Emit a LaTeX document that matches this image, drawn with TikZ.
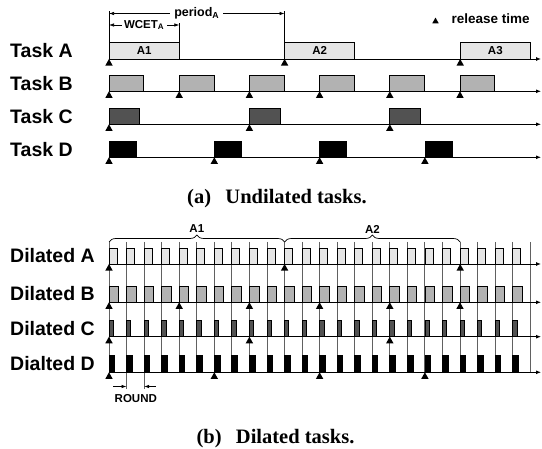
\documentclass[tikz,border=0pt]{standalone}
\usepackage{fontspec}
\setmainfont{Liberation Sans}
\newfontfamily\capfont{Liberation Serif}
\usetikzlibrary{arrows.meta,decorations.pathreplacing}
\tikzset{
  rowlab/.style={font=\bfseries\fontsize{19.5}{19.5}\selectfont, anchor=base west, inner sep=0pt},
  small/.style={font=\bfseries\fontsize{11.5}{12}\selectfont, inner sep=0pt},
  caption/.style={font=\capfont\bfseries\fontsize{20.5}{20.5}\selectfont, anchor=base, inner sep=0pt},
  axis/.style={line width=0.9pt, -{Latex[length=5pt,width=4pt]}},
  dim/.style={line width=0.7pt, {Latex[length=5pt,width=3.5pt]}-{Latex[length=5pt,width=3.5pt]}},
  tick/.style={line width=0.7pt},
  vline/.style={line width=0.85pt, draw=black!62},
  boxA/.style={draw=black, line width=0.8pt, fill=black!10},
  boxB/.style={draw=black, line width=0.8pt, fill=black!30},
  boxC/.style={draw=black, line width=0.8pt, fill=black!68},
  boxD/.style={draw=black, line width=0.8pt, fill=black},
  relmark/.style={fill=black},
}
\newcommand\relat[2]{\fill[relmark] (#1,#2) -- ++(-3.7,6.6) -- ++(7.4,0) -- cycle;}
\begin{document}
\begin{tikzpicture}[x=1pt,y=-1pt]
\useasboundingbox (0,0) rectangle (542,449);

% ---------------- (a) undilated ----------------
\node[rowlab] (tA) at (10,57.5) {Task A};
\node[rowlab] (tB) at (10,90.3) {Task B};
\node[rowlab] (tC) at (10,123.2) {Task C};
\node[rowlab] (tD) at (10,156.2) {Task D};

% boxes
\foreach \s/\t in {109/A1,284.6/A2,460.2/A3}{
  \draw[boxA] (\s,59) rectangle ++(70.2,-16.5);
  \node[small] (j\t) at ({\s+35.1},50.75) {\t};
}
\foreach \k in {0,...,5}{\draw[boxB] ({109+\k*70.2},91.3) rectangle ++(34.8,-15.8);}
\foreach \k in {0,...,2}{\draw[boxC] ({109+\k*140.4},124.3) rectangle ++(30.5,-16);}
\foreach \k in {0,...,3}{\draw[boxD] ({109+\k*105.3},157.3) rectangle ++(27,-16.3);}

% axes
\foreach \y/\n in {59/a,91.3/b,124.3/c,157.3/d}{
  \coordinate (s\n) at (109,\y); \coordinate (e\n) at (541,\y);
  \draw[axis] (s\n) -- (e\n);
}
% releases
\foreach \s in {109,284.6,460.2}{\relat{\s}{59}}
\foreach \k in {0,...,5}{\relat{109+\k*70.2}{91.3}}
\foreach \k in {0,...,2}{\relat{109+\k*140.4}{124.3}}
\foreach \k in {0,...,3}{\relat{109+\k*105.3}{157.3}}

% period / WCET annotations
\coordinate (p0) at (109,13.5); \coordinate (p1) at (284.6,13.5);
\coordinate (w0) at (109,25); \coordinate (w1) at (179.3,25);
\draw[tick] (109,11.5) -- (109,42.5);
\draw[tick] (284.6,11.5) -- (284.6,42.5);
\draw[tick] (179.3,22.5) -- (179.3,42.5);
\draw[dim] (p0) -- (p1) node[midway, fill=white, inner sep=4pt, font=\bfseries\fontsize{12.5}{13}\selectfont] (per) {period\textsubscript{A}};
\draw[dim] (w0) -- (w1) node[midway, fill=white, inner sep=2.5pt, font=\bfseries\fontsize{11.5}{12}\selectfont] (wcet) {WCET\textsubscript{A}};

% legend
\fill[relmark] (432.3,23.3) -- (438.7,23.3) -- (435.5,17.6) -- cycle;
\node[font=\bfseries\fontsize{13.5}{14}\selectfont, anchor=base west, inner sep=0pt] (leg) at (451.5,23.3) {release time};

\node[caption] (capa) at (277,203.3) {(a)\hspace{0.7em}Undilated tasks.};

% ---------------- (b) dilated ----------------
\node[rowlab] (dA) at (10,262.8) {Dilated A};
\node[rowlab] (dB) at (10,300.8) {Dilated B};
\node[rowlab] (dC) at (10,335.3) {Dilated C};
\node[rowlab] (dD) at (10,370.8) {Dialted D};

% round boundaries
\foreach \k in {0,...,24}{\draw[vline] ({109+\k*17.55},242) -- ({109+\k*17.55},372.3);}
\draw[vline] (126.55,372.3) -- (126.55,389);
\draw[vline] (144.1,372.3) -- (144.1,389);

% dilated boxes
\foreach \k in {0,...,23}{
  \draw[boxA] ({109+\k*17.55},264) rectangle ++(8,-15.7);
  \draw[boxB] ({109+\k*17.55},302.3) rectangle ++(9.5,-16.3);
  \draw[boxC] ({109+\k*17.55},336.7) rectangle ++(4.3,-16);
  \draw[boxD] ({109+\k*17.55},372.3) rectangle ++(5.6,-16.6);
}
% axes
\foreach \y/\n in {264/A,302.3/B,336.7/C,372.3/D}{
  \coordinate (ds\n) at (109,\y); \coordinate (de\n) at (541,\y);
  \draw[axis] (ds\n) -- (de\n);
}
% releases
\foreach \s in {109,284.6,460.2}{\relat{\s}{264}}
\foreach \k in {0,...,5}{\relat{109+\k*70.2}{302.3}}
\foreach \k in {0,...,2}{\relat{109+\k*140.4}{336.7}}
\foreach \k in {0,...,3}{\relat{109+\k*105.3}{372.3}}

% braces
\coordinate (b0) at (109,242); \coordinate (b1) at (284.6,242); \coordinate (b2) at (460.2,242);
\draw[decorate, decoration={brace, amplitude=7pt}, line width=0.7pt] (b0) -- (b1);
\draw[decorate, decoration={brace, amplitude=7pt}, line width=0.7pt] (b1) -- (b2);
\node[small] (bA1) at (196.8,229) {A1};
\node[small] (bA2) at (372.4,229) {A2};

% ROUND
\coordinate (r0) at (113,386.5); \coordinate (r1) at (126.55,386.5);
\coordinate (r2) at (155.5,386.5); \coordinate (r3) at (144.1,386.5);
\draw[line width=0.7pt, -{Latex[length=5pt,width=3.5pt]}] (r0) -- (r1);
\draw[line width=0.7pt, -{Latex[length=5pt,width=3.5pt]}] (r2) -- (r3);
\node[small] (rnd) at (135.8,398.5) {ROUND};

\node[caption] (capb) at (275.5,443.3) {(b)\hspace{0.7em}Dilated tasks.};
\end{tikzpicture}
\end{document}
